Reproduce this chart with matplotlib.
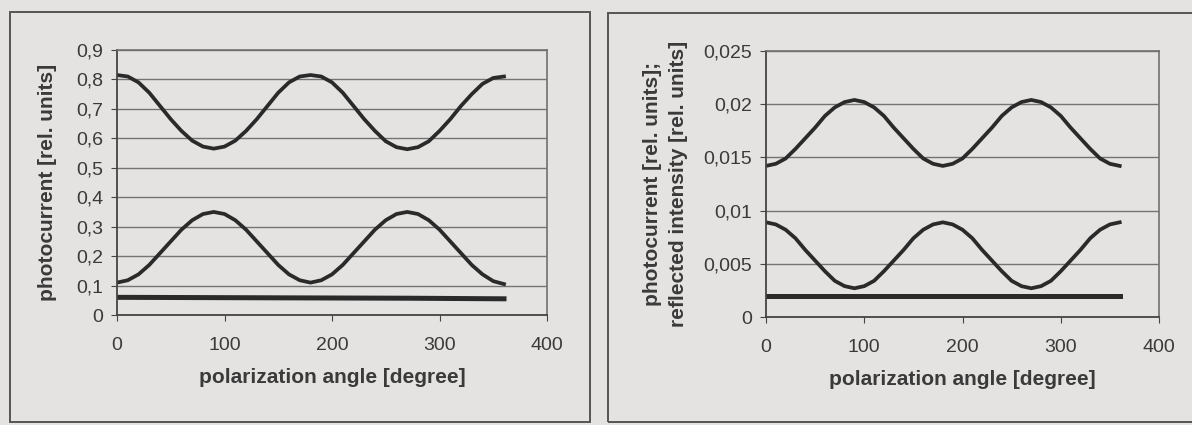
import matplotlib
matplotlib.use('Agg')
import matplotlib.pyplot as plt
from matplotlib.patches import Rectangle
import numpy as np

plt.rcParams['font.family'] = ['Liberation Sans', 'DejaVu Sans']

# polarization angle, 10 degree steps
angle = list(range(0, 370, 10))

# left chart
left_top = [0.815, 0.81, 0.79, 0.755, 0.71, 0.665, 0.625, 0.592, 0.572, 0.565,
            0.572, 0.592, 0.625, 0.665, 0.71, 0.755, 0.79, 0.81, 0.815,
            0.81, 0.79, 0.755, 0.71, 0.665, 0.625, 0.59, 0.57, 0.563,
            0.57, 0.59, 0.625, 0.665, 0.71, 0.75, 0.785, 0.805, 0.81]
left_mid = [0.11, 0.118, 0.138, 0.17, 0.21, 0.25, 0.29, 0.322, 0.343, 0.35,
            0.343, 0.322, 0.29, 0.25, 0.21, 0.17, 0.138, 0.118, 0.11,
            0.118, 0.138, 0.17, 0.21, 0.25, 0.29, 0.322, 0.343, 0.35,
            0.343, 0.322, 0.29, 0.25, 0.21, 0.17, 0.138, 0.115, 0.105]
flat_angle = [0, 90, 180, 270, 360]
left_low = [0.06, 0.059, 0.058, 0.057, 0.055]

# right chart
right_top = [0.0142, 0.0144, 0.0149, 0.0158, 0.0168, 0.0178, 0.0189, 0.0197, 0.0202, 0.0204,
             0.0202, 0.0197, 0.0189, 0.0178, 0.0168, 0.0158, 0.0149, 0.0144, 0.0142,
             0.0144, 0.0149, 0.0158, 0.0168, 0.0178, 0.0189, 0.0197, 0.0202, 0.0204,
             0.0202, 0.0197, 0.0189, 0.0178, 0.0168, 0.0158, 0.0149, 0.0144, 0.0142]
right_mid = [0.0089, 0.0087, 0.0082, 0.0074, 0.0063, 0.0053, 0.0043, 0.0034, 0.0029, 0.0027,
             0.0029, 0.0034, 0.0043, 0.0053, 0.0063, 0.0074, 0.0082, 0.0087, 0.0089,
             0.0087, 0.0082, 0.0074, 0.0063, 0.0053, 0.0043, 0.0034, 0.0029, 0.0027,
             0.0029, 0.0034, 0.0043, 0.0053, 0.0063, 0.0074, 0.0082, 0.0087, 0.0089]
right_low = [0.002, 0.002, 0.002, 0.002, 0.002]

x_ticks = [0, 100, 200, 300, 400]
x_names = ['0', '100', '200', '300', '400']
left_yticks = [0, 0.1, 0.2, 0.3, 0.4, 0.5, 0.6, 0.7, 0.8, 0.9]
left_ynames = ['0', '0,1', '0,2', '0,3', '0,4', '0,5', '0,6', '0,7', '0,8', '0,9']
right_yticks = [0, 0.005, 0.01, 0.015, 0.02, 0.025]
right_ynames = ['0', '0,005', '0,01', '0,015', '0,02', '0,025']

paper = '#e4e3e1'
ink = '#2a2a2a'
txt = '#3a3a3a'

fig = plt.figure(figsize=(11.92, 4.25), dpi=100)
fig.patch.set_facecolor(paper)

# panel frames (scanned page boxes)
fig.patches.append(Rectangle((10/1192, 1-422/425), 580/1192, 410/425, transform=fig.transFigure,
                             fill=False, edgecolor='#555555', linewidth=1.4))
fig.patches.append(Rectangle((608/1192, 1-422/425), 600/1192, 409/425, transform=fig.transFigure,
                             fill=False, edgecolor='#555555', linewidth=1.4))


def style_axes(ax, yticks, ynames, ymax):
    ax.set_facecolor(paper)
    ax.set_xlim(0, 400)
    ax.set_ylim(0, ymax)
    ax.set_xticks(x_ticks)
    ax.set_xticklabels(x_names, fontsize=14, color=txt)
    ax.set_yticks(yticks)
    ax.set_yticklabels(ynames, fontsize=14, color=txt)
    ax.tick_params(axis='x', length=4, pad=12, color='#444444')
    ax.tick_params(axis='y', length=4, pad=6, color='#444444')
    ax.yaxis.grid(True, color='#747474', linewidth=1.0)
    ax.set_axisbelow(True)
    for s in ['top', 'right']:
        ax.spines[s].set_color('#707070')
        ax.spines[s].set_linewidth(1.2)
    for s in ['left', 'bottom']:
        ax.spines[s].set_color('#444444')
        ax.spines[s].set_linewidth(1.3)
    ax.set_xlabel('polarization angle [degree]', fontsize=15, fontweight='bold', color=txt, labelpad=10)


ax1 = fig.add_axes([117/1192, 1-315/425, 430/1192, 265/425])
ax1.plot(angle, left_top, color=ink, linewidth=2.7)
ax1.plot(angle, left_mid, color=ink, linewidth=2.7)
ax1.plot(flat_angle, left_low, color=ink, linewidth=3.6)
style_axes(ax1, left_yticks, left_ynames, 0.9)
ax1.set_ylabel('photocurrent [rel. units]', fontsize=15, fontweight='bold', color=txt)
ax1.yaxis.set_label_coords(-60/430, 0.5)

ax2 = fig.add_axes([766/1192, 1-317/425, 393/1192, 266/425])
ax2.plot(angle, right_top, color=ink, linewidth=2.7)
ax2.plot(angle, right_mid, color=ink, linewidth=2.7)
ax2.plot(flat_angle, right_low, color=ink, linewidth=3.6)
style_axes(ax2, right_yticks, right_ynames, 0.025)
ax2.set_ylabel('photocurrent [rel. units];\nreflected intensity [rel. units]', fontsize=15,
               fontweight='bold', color=txt, linespacing=1.45)
ax2.yaxis.set_label_coords(-78/393, 0.5)

plt.savefig('out.png', dpi=100, facecolor=paper)
